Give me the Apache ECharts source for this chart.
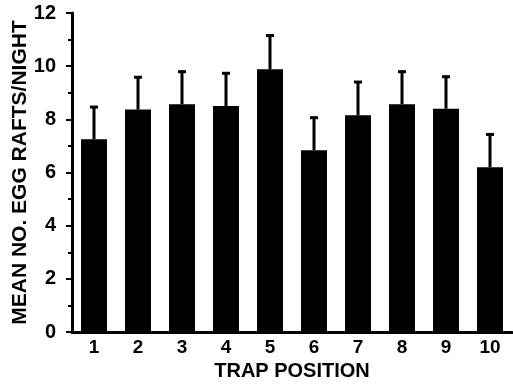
<!DOCTYPE html>
<html>
<head>
<meta charset="utf-8">
<script src="https://cdn.jsdelivr.net/npm/echarts@6/dist/echarts.min.js"></script>
<style>
  html, body { margin: 0; padding: 0; background: #fff; }
  #chart { width: 513px; height: 384px; }
</style>
</head>
<body>
<div id="chart"></div>
<script>
// trap positions and mean egg rafts per night
const positions = ['1', '2', '3', '4', '5', '6', '7', '8', '9', '10'];
const means = [7.25, 8.37, 8.57, 8.5, 9.88, 6.84, 8.15, 8.57, 8.4, 6.2];
const errTops = [8.5, 9.62, 9.83, 9.77, 11.19, 8.1, 9.44, 9.83, 9.64, 7.47];

const font = '"Liberation Sans", Arial, Helvetica, sans-serif';
const black = '#000';

const chart = echarts.init(document.getElementById('chart'));

const errData = positions.map((p, i) => [i, means[i], errTops[i]]);

chart.setOption({
  animation: false,
  grid: { left: 72, right: 1, top: 13, bottom: 52, outerBoundsMode: 'none', containLabel: false },
  xAxis: {
    type: 'category',
    data: positions,
    name: 'TRAP POSITION',
    nameLocation: 'middle',
    nameGap: 28,
    nameTextStyle: { color: black, fontSize: 20, fontWeight: 'bold', fontFamily: font },
    axisLine: { lineStyle: { color: black, width: 3 } },
    axisTick: { show: false },
    axisLabel: { color: black, fontSize: 19, fontWeight: 'bold', fontFamily: font, margin: 6 },
  },
  yAxis: {
    type: 'value',
    min: 0,
    max: 12,
    interval: 2,
    name: 'MEAN NO. EGG RAFTS/NIGHT',
    nameLocation: 'middle',
    nameGap: 41,
    nameMoveOverlap: false,
    nameTextStyle: { color: black, fontSize: 21, fontWeight: 'bold', fontFamily: font },
    axisLine: { show: true, lineStyle: { color: black, width: 3 } },
    axisTick: { show: true, length: 6, lineStyle: { color: black, width: 2 } },
    minorTick: { show: true, splitNumber: 2, length: 4, lineStyle: { color: black, width: 2 } },
    splitLine: { show: false },
    axisLabel: { color: black, fontSize: 20, fontWeight: 'bold', fontFamily: font, margin: 16 },
  },
  series: [
    {
      type: 'bar',
      data: means,
      barWidth: 26,
      itemStyle: { color: black },
      z: 2,
    },
    {
      type: 'custom',
      data: errData,
      z: 3,
      renderItem: function (params, api) {
        const base = api.coord([api.value(0), api.value(1)]);
        const top = api.coord([api.value(0), api.value(2)]);
        const cap = 4;
        return {
          type: 'group',
          children: [
            {
              type: 'line',
              shape: { x1: base[0], y1: base[1], x2: top[0], y2: top[1] },
              style: { stroke: black, lineWidth: 3 },
            },
            {
              type: 'line',
              shape: { x1: top[0] - cap, y1: top[1] + 1, x2: top[0] + cap, y2: top[1] + 1 },
              style: { stroke: black, lineWidth: 3 },
            },
          ],
        };
      },
    },
  ],
});
</script>
</body>
</html>
